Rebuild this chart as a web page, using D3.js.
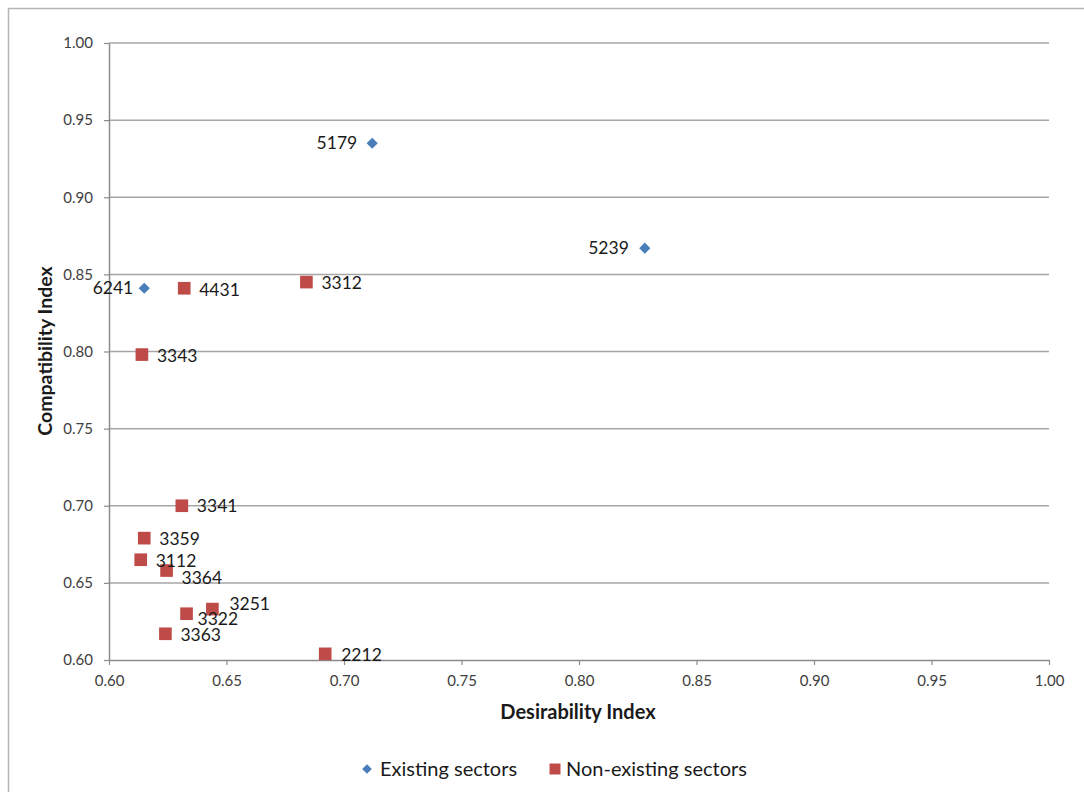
<!DOCTYPE html>
<html>
<head>
<meta charset="utf-8">
<script src="https://cdn.jsdelivr.net/npm/d3@7"></script>
<style>
  html, body { margin: 0; padding: 0; background: #fff; }
  svg { display: block; font-family: Lato, "Open Sans", sans-serif; }
</style>
</head>
<body>
<svg id="chart" width="1084" height="792"></svg>
<script>
// ---- data ----
const existingLabels = ["5179", "5239", "6241"];
const existingX = [0.712, 0.828, 0.615];
const existingY = [0.935, 0.867, 0.841];

const nonExistingLabels = ["4431", "3312", "3343", "3341", "3359", "3112", "3364", "3251", "3322", "3363", "2212"];
const nonExistingX = [0.632, 0.684, 0.614, 0.631, 0.615, 0.6135, 0.6245, 0.644, 0.633, 0.624, 0.692];
const nonExistingY = [0.841, 0.845, 0.798, 0.700, 0.679, 0.665, 0.658, 0.633, 0.630, 0.617, 0.604];

const xTicks = [0.60, 0.65, 0.70, 0.75, 0.80, 0.85, 0.90, 0.95, 1.00];
const yTicks = [0.60, 0.65, 0.70, 0.75, 0.80, 0.85, 0.90, 0.95, 1.00];

const xTitle = "Desirability Index";
const yTitle = "Compatibility Index";
const seriesNames = ["Existing sectors", "Non-existing sectors"];
const seriesColors = ["#4a7ebb", "#be4b48"];

// label placement (dx, dy, anchor), per point
const existingLabelPos = [[-15, 0, "end"], [-16, 0, "end"], [-11, 0, "end"]];
const nonExistingLabelPos = [[15, 2, "start"], [15, 1, "start"], [15, 1, "start"], [15, 0, "start"], [15, 1, "start"], [15, 1, "start"], [15, 7, "start"], [17, -5, "start"], [11, 5, "start"], [15, 1, "start"], [16, 1, "start"]];

// ---- layout ----
const svg = d3.select("#chart");
const mLeft = 109, mRight = 1049, mTop = 43, mBottom = 660;

const x = d3.scaleLinear().domain([0.6, 1.0]).range([mLeft, mRight]);
const y = d3.scaleLinear().domain([0.6, 1.0]).range([mBottom, mTop]);

// outer frame (top and left edges visible)
svg.append("path")
  .attr("d", `M8.5,792 L8.5,8.5 L1084,8.5`)
  .attr("fill", "none").attr("stroke", "#b4b4b4").attr("stroke-width", 1.5);

// gridlines
svg.append("g").selectAll("line")
  .data(yTicks.filter(d => d > 0.6))
  .join("line")
  .attr("x1", mLeft).attr("x2", mRight)
  .attr("y1", d => y(d)).attr("y2", d => y(d))
  .attr("stroke", "#a6a6a6").attr("stroke-width", 1.5);

// axes
const xAxis = svg.append("g").attr("transform", `translate(0,${mBottom})`)
  .call(d3.axisBottom(x).tickValues(xTicks).tickFormat(d3.format(".2f")).tickSize(5).tickSizeOuter(0).tickPadding(10));
const yAxis = svg.append("g").attr("transform", `translate(${mLeft},0)`)
  .call(d3.axisLeft(y).tickValues(yTicks).tickFormat(d3.format(".2f")).tickSize(5).tickSizeOuter(0).tickPadding(11));

[xAxis, yAxis].forEach(g => {
  g.select(".domain").attr("stroke", "#8c8c8c").attr("stroke-width", 1.5);
  g.selectAll(".tick line").attr("stroke", "#8c8c8c").attr("stroke-width", 1.2);
  g.selectAll(".tick text").attr("fill", "#404040").attr("font-size", 15)
    .attr("font-family", "Lato, 'Open Sans', sans-serif");
});

// axis titles
svg.append("text").attr("x", 578).attr("y", 719)
  .attr("text-anchor", "middle").attr("font-size", 20).attr("font-weight", "bold")
  .attr("fill", "#1a1a1a").text(xTitle);
svg.append("text").attr("transform", `translate(52,351) rotate(-90)`)
  .attr("text-anchor", "middle").attr("font-size", 19.5).attr("font-weight", "bold")
  .attr("fill", "#1a1a1a").text(yTitle);

// points
const diamond = d3.symbol().type(d3.symbolDiamond2).size(80);
const square = d3.symbol().type(d3.symbolSquare).size(160);

const existing = existingLabels.map((l, i) => ({ label: l, x: existingX[i], y: existingY[i], pos: existingLabelPos[i] }));
const nonExisting = nonExistingLabels.map((l, i) => ({ label: l, x: nonExistingX[i], y: nonExistingY[i], pos: nonExistingLabelPos[i] }));

svg.append("g").selectAll("path").data(nonExisting).join("path")
  .attr("d", square).attr("fill", seriesColors[1])
  .attr("transform", d => `translate(${x(d.x)},${y(d.y)})`);
svg.append("g").selectAll("path").data(existing).join("path")
  .attr("d", diamond).attr("fill", seriesColors[0])
  .attr("transform", d => `translate(${x(d.x)},${y(d.y)})`);

// data labels
svg.append("g").selectAll("text").data(existing.concat(nonExisting)).join("text")
  .attr("x", d => x(d.x) + d.pos[0])
  .attr("y", d => y(d.y) + d.pos[1])
  .attr("dy", "0.35em")
  .attr("text-anchor", d => d.pos[2])
  .attr("font-size", 17.5).attr("fill", "#1a1a1a")
  .text(d => d.label);

// legend
const legend = svg.append("g").attr("transform", "translate(0,769)");
legend.append("path").attr("d", d3.symbol().type(d3.symbolDiamond2).size(60))
  .attr("transform", "translate(367,0)").attr("fill", seriesColors[0]);
legend.append("text").attr("x", 380).attr("dy", "0.35em").attr("font-size", 20)
  .attr("fill", "#1a1a1a").text(seriesNames[0]);
legend.append("path").attr("d", d3.symbol().type(d3.symbolSquare).size(120))
  .attr("transform", "translate(555,0)").attr("fill", seriesColors[1]);
legend.append("text").attr("x", 566).attr("dy", "0.35em").attr("font-size", 20)
  .attr("fill", "#1a1a1a").text(seriesNames[1]);
</script>
</body>
</html>
